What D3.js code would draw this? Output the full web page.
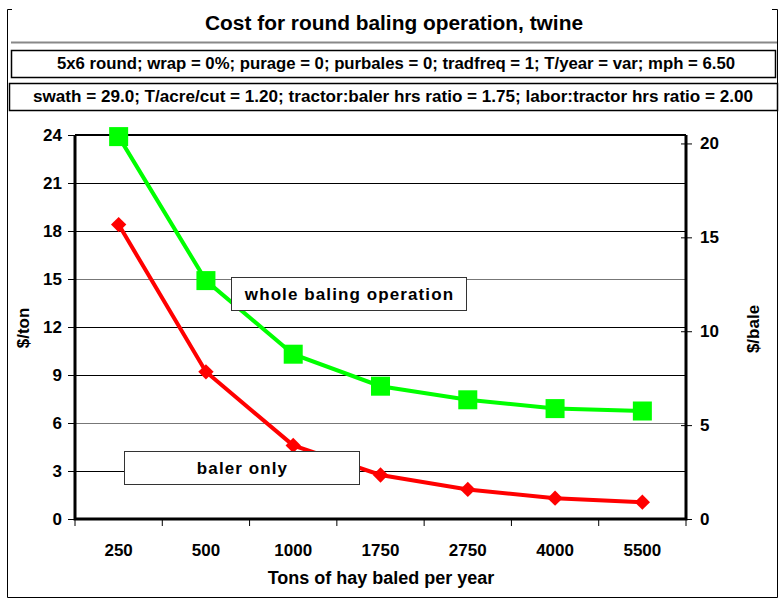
<!DOCTYPE html>
<html>
<head>
<meta charset="utf-8">
<script src="https://cdn.jsdelivr.net/npm/d3@7"></script>
<style>
  body { margin: 0; background: #fff; }
  text { font-family: "Liberation Sans", Arial, sans-serif; font-weight: bold; fill: #000; }
</style>
</head>
<body>
<svg id="chart" width="783" height="604"></svg>
<script>
// tons of hay baled per year
const categories = ['250', '500', '1000', '1750', '2750', '4000', '5500'];
// $/ton
const wholeOperation = [23.9, 14.9, 10.3, 8.3, 7.45, 6.9, 6.75];
const balerOnly = [18.4, 9.2, 4.6, 2.75, 1.85, 1.3, 1.05];
const leftTicks = [0, 3, 6, 9, 12, 15, 18, 21, 24];
const rightTicks = [0, 5, 10, 15, 20];

const title = 'Cost for round baling operation, twine';
const subtitles = [
  '5x6 round; wrap = 0%; purage = 0; purbales = 0; tradfreq = 1; T/year = var; mph = 6.50',
  'swath = 29.0; T/acre/cut = 1.20; tractor:baler hrs ratio = 1.75; labor:tractor hrs ratio = 2.00'
];

const svg = d3.select('#chart');
const plot = { left: 75, right: 686, top: 135, bottom: 519 };

const x = d3.scaleBand().domain(categories).range([plot.left, plot.right]);
const y = d3.scaleLinear().domain([0, 24]).range([plot.bottom, plot.top]);
const yRight = d3.scaleLinear().domain([0, 20.45]).range([plot.bottom, plot.top]);

// outer frame + title block
svg.append('path')
   .attr('d', 'M12,9.5 H7.5 V597.5 H777.5 V9.5 H772')
   .attr('fill', 'none').attr('stroke', '#000').attr('stroke-width', 1);
svg.append('line')
   .attr('x1', 11).attr('x2', 777).attr('y1', 42.5).attr('y2', 42.5)
   .attr('stroke', '#888').attr('stroke-width', 2);
svg.append('text')
   .attr('x', 394).attr('y', 30)
   .attr('text-anchor', 'middle')
   .attr('textLength', 378).attr('lengthAdjust', 'spacingAndGlyphs')
   .style('font-size', '20px')
   .text(title);

const boxes = [
  { x: 11, y: 50, w: 764, h: 27, tx: 396, ty: 69, len: 678 },
  { x: 9, y: 83, w: 768, h: 27, tx: 393, ty: 102, len: 720 }
];
subtitles.forEach((s, i) => {
  const b = boxes[i];
  svg.append('rect')
     .attr('x', b.x + 0.5).attr('y', b.y + 0.5)
     .attr('width', b.w).attr('height', b.h)
     .attr('fill', '#fff').attr('stroke', '#000').attr('stroke-width', 1.5);
  svg.append('text')
     .attr('x', b.tx).attr('y', b.ty)
     .attr('text-anchor', 'middle')
     .attr('textLength', b.len).attr('lengthAdjust', 'spacingAndGlyphs')
     .style('font-size', '16px')
     .text(s);
});

// gridlines
svg.append('g')
   .selectAll('line')
   .data(leftTicks.filter((t) => t > 0 && t < 24))
   .join('line')
   .attr('x1', plot.left).attr('x2', plot.right)
   .attr('y1', (d) => Math.round(y(d)) + 0.5)
   .attr('y2', (d) => Math.round(y(d)) + 0.5)
   .attr('stroke', (d, i) => (i % 3 === 1 ? '#777' : '#000'))
   .attr('stroke-width', 1);

// left axis
const gLeft = svg.append('g').attr('transform', `translate(${plot.left},0)`)
  .call(d3.axisLeft(y).tickValues(leftTicks).tickSize(7).tickPadding(6));
gLeft.select('.domain').remove();
gLeft.selectAll('.tick line').attr('stroke', '#000');
gLeft.selectAll('.tick text').style('font-size', '17px').attr('x', -13).attr('font-family', null);

// right axis
const gRight = svg.append('g').attr('transform', `translate(${plot.right},0)`)
  .call(d3.axisRight(yRight).tickValues(rightTicks).tickSize(6).tickPadding(8));
gRight.select('.domain').remove();
gRight.selectAll('.tick line').attr('x1', -5).attr('stroke', '#000');
gRight.selectAll('.tick text').style('font-size', '17px').attr('x', 14).attr('font-family', null);

// bottom axis: ticks at band edges, labels at band centres
const edges = categories.map((c) => x(c)).concat([plot.right]);
svg.append('g')
   .selectAll('line')
   .data(edges)
   .join('line')
   .attr('x1', (d) => d).attr('x2', (d) => d)
   .attr('y1', plot.bottom).attr('y2', plot.bottom + 7)
   .attr('stroke', '#000');
svg.append('g')
   .selectAll('text')
   .data(categories)
   .join('text')
   .attr('x', (d) => x(d) + x.bandwidth() / 2)
   .attr('y', 556)
   .attr('text-anchor', 'middle')
   .style('font-size', '17px')
   .text((d) => d);

// plot border
svg.append('line').attr('x1', plot.left).attr('x2', plot.right)
   .attr('y1', plot.top).attr('y2', plot.top)
   .attr('stroke', '#000').attr('stroke-width', 2);
svg.append('path')
   .attr('d', `M${plot.left},${plot.top} V${plot.bottom} H${plot.right} V${plot.top}`)
   .attr('fill', 'none').attr('stroke', '#000').attr('stroke-width', 3);

// axis titles
svg.append('text')
   .attr('transform', 'translate(29,328) rotate(-90)')
   .attr('text-anchor', 'middle')
   .style('font-size', '17px')
   .text('$/ton');
svg.append('text')
   .attr('transform', 'translate(759,329) rotate(-90)')
   .attr('text-anchor', 'middle')
   .style('font-size', '17px')
   .text('$/bale');
svg.append('text')
   .attr('x', 381).attr('y', 584)
   .attr('text-anchor', 'middle')
   .style('font-size', '18px')
   .text('Tons of hay baled per year');

// series
const cx = (i) => x(categories[i]) + x.bandwidth() / 2;
const line = d3.line().x((d, i) => cx(i)).y((d) => y(d));

svg.append('path').datum(balerOnly)
   .attr('d', line).attr('fill', 'none')
   .attr('stroke', '#ff0000').attr('stroke-width', 4);
svg.append('g').selectAll('path')
   .data(balerOnly)
   .join('path')
   .attr('d', d3.symbol(d3.symbolDiamond2, 150))
   .attr('transform', (d, i) => `translate(${cx(i)},${y(d)})`)
   .attr('fill', '#ff0000');

svg.append('path').datum(wholeOperation)
   .attr('d', line).attr('fill', 'none')
   .attr('stroke', '#00ff00').attr('stroke-width', 4);
svg.append('g').selectAll('rect')
   .data(wholeOperation)
   .join('rect')
   .attr('x', (d, i) => cx(i) - 9.5).attr('y', (d) => y(d) - 9.5)
   .attr('width', 19).attr('height', 19)
   .attr('fill', '#00ff00');

// callout labels
const callouts = [
  { text: 'whole baling operation', x: 231, y: 277, w: 235, h: 33 },
  { text: 'baler only', x: 124, y: 451, w: 235, h: 33 }
];
callouts.forEach((c) => {
  svg.append('rect')
     .attr('x', c.x + 0.5).attr('y', c.y + 0.5)
     .attr('width', c.w).attr('height', c.h)
     .attr('fill', '#fff').attr('stroke', '#333').attr('stroke-width', 1);
  svg.append('text')
     .attr('x', c.x + c.w / 2 + 1).attr('y', c.y + 23)
     .attr('text-anchor', 'middle')
     .style('font-size', '17px')
     .style('letter-spacing', '1.1px')
     .text(c.text);
});
</script>
</body>
</html>
